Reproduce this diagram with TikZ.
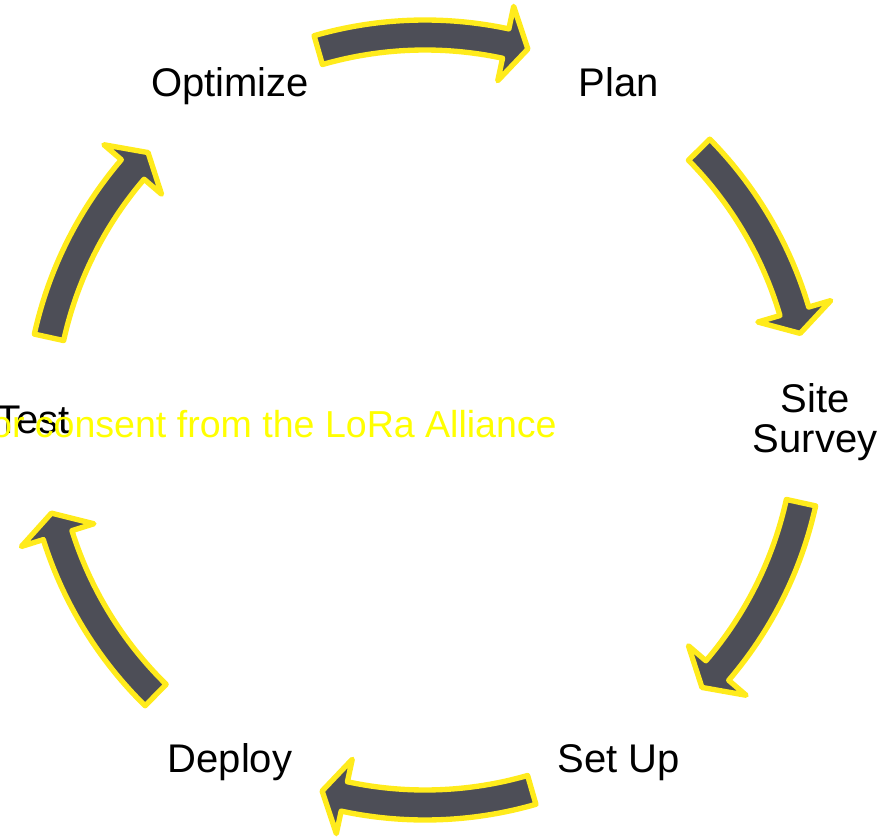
\documentclass[tikz,border=0pt]{standalone}
\usepackage{fontspec}
\setmainfont{Liberation Sans}
\usetikzlibrary{positioning}
\definecolor{arrowgray}{HTML}{4D4E57}
\definecolor{rimyellow}{HTML}{FFEB1C}
\definecolor{noticeyellow}{HTML}{FFFF00}

\begin{document}
\begin{tikzpicture}[
  x=0.025cm, y=0.025cm,
  lbl/.style={inner sep=0pt, font=\fontsize{28.45}{28.45}\selectfont, text=black},
  notice/.style={inner sep=0pt, font=\fontsize{26.7}{26.7}\selectfont, text=noticeyellow},
  blockarrow/.style={fill=arrowgray, draw=rimyellow, line width=3.8pt, line join=round}
]
  \path[use as bounding box] (0,0) rectangle (888,-840);
  \clip (0,0) rectangle (888,-840);
  \coordinate (hub) at (425,-420);

  % curved block arrows, clockwise
  \begin{scope}[shift={(hub)}]
    \foreach \c in {90,28.5,-28.5,-90,-150.5,151.5}{
      \draw[blockarrow] (\c+16.1:400) arc[start angle=\c+16.1, end angle=\c-12.1, radius=400]
        -- (\c-12.1:423) -- (\c-15.5:385) -- (\c-12.1:347) -- (\c-12.1:370)
        arc[start angle=\c-12.1, end angle=\c+16.1, radius=370] -- cycle;
    }
  \end{scope}

  % stages
  \node[lbl, anchor=base] (optimize) at (230,-97) {Optimize};
  \node[lbl, anchor=base] (plan) at (619,-97) {Plan};
  \node[lbl, align=center] (survey) at (815,-421.7) {Site\\Survey};
  \node[lbl, anchor=base] (setup) at (619,-772) {Set Up};
  \node[lbl, anchor=base] (deploy) at (230,-772) {Deploy};
  \node[lbl, anchor=base] (test) at (33,-433) {Test};

  \node[notice, anchor=base east] (consent) at (557,-437) {or consent from the LoRa Alliance};
\end{tikzpicture}
\end{document}
